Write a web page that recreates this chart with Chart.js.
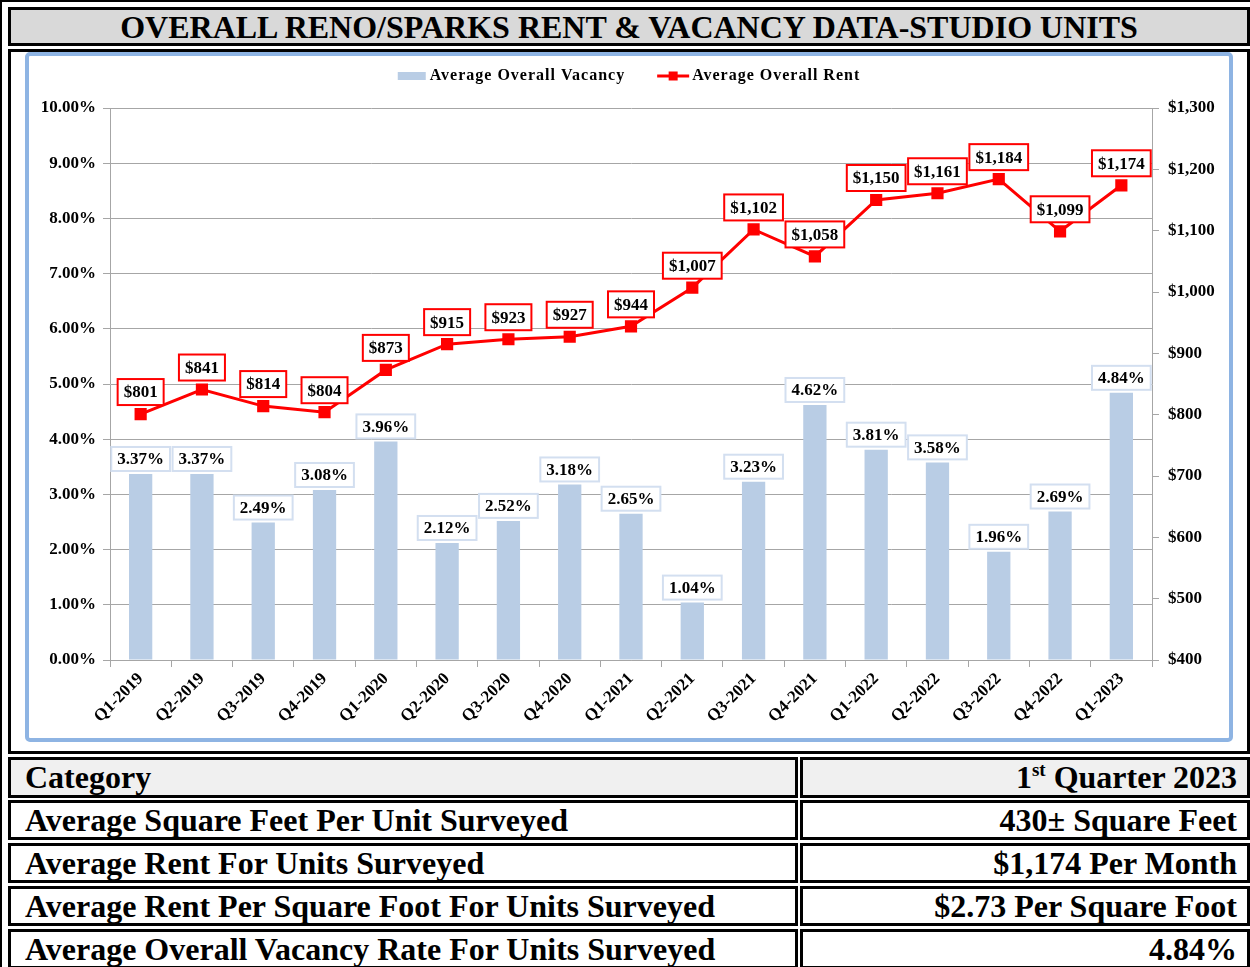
<!DOCTYPE html>
<html>
<head>
<meta charset="utf-8">
<script src="https://cdn.jsdelivr.net/npm/chart.js@4.4.1/dist/chart.umd.min.js"></script>
<style>
    html, body { margin: 0; padding: 0; background: #fff; overflow: hidden; }
    body { width: 1250px; height: 967px; position: relative; font-family: "Liberation Serif", "Times New Roman", serif; }
    .frame { position: absolute; left: 0; top: 0; width: 1270px; height: 1000px; border: 2px solid #000; box-sizing: border-box; }
    .cell { position: absolute; border: 3px solid #000; box-sizing: border-box; font-weight: bold; color: #000; white-space: nowrap; }
    .title { left: 8px; top: 7px; width: 1242px; height: 39px; background: #d9d9d9; text-align: center; font-size: 32px; line-height: 34px; }
    .chartcell { left: 8px; top: 49px; width: 1242px; height: 705px; background: #fff; }
    .panel { position: absolute; left: 25px; top: 52px; width: 1208px; height: 690px; border: 4px solid #8eb4e3; border-radius: 5px; box-sizing: border-box; }
    .row { font-size: 32px; line-height: 34px; height: 40px; }
    .row.left { left: 8px; width: 790px; padding-left: 14px; }
    .row.right { left: 800px; width: 450px; padding-right: 10px; text-align: right; }
    .row.head { background: #f0f0f0; height: 41px; }
    sup { font-size: 19px; vertical-align: 12px; line-height: 0; }
    #chartBox { position: absolute; left: 29px; top: 56px; width: 1200px; height: 682px; }
</style>
</head>
<body>
<div class="frame"></div>
<div class="cell title">OVERALL RENO/SPARKS RENT &amp; VACANCY DATA-STUDIO UNITS</div>
<div class="cell chartcell"></div>
<div class="panel"></div>
<div id="chartBox"><canvas id="rent-chart" width="1200" height="682"></canvas></div>

<div class="cell row left head" style="top:757px">Category</div>
<div class="cell row right head" style="top:757px">1<sup>st</sup> Quarter 2023</div>
<div class="cell row left" style="top:800px">Average Square Feet Per Unit Surveyed</div>
<div class="cell row right" style="top:800px">430± Square Feet</div>
<div class="cell row left" style="top:843px">Average Rent For Units Surveyed</div>
<div class="cell row right" style="top:843px">$1,174 Per Month</div>
<div class="cell row left" style="top:886px">Average Rent Per Square Foot For Units Surveyed</div>
<div class="cell row right" style="top:886px">$2.73 Per Square Foot</div>
<div class="cell row left" style="top:929px">Average Overall Vacancy Rate For Units Surveyed</div>
<div class="cell row right" style="top:929px">4.84%</div>

<script>
// Reno/Sparks studio units - vacancy (bars) and rent (line)

const quarters = [
    'Q1-2019', 'Q2-2019', 'Q3-2019', 'Q4-2019',
    'Q1-2020', 'Q2-2020', 'Q3-2020', 'Q4-2020',
    'Q1-2021', 'Q2-2021', 'Q3-2021', 'Q4-2021',
    'Q1-2022', 'Q2-2022', 'Q3-2022', 'Q4-2022',
    'Q1-2023'
];

// Average overall vacancy, percent
const vacancyRates = [3.37, 3.37, 2.49, 3.08, 3.96, 2.12, 2.52, 3.18, 2.65, 1.04, 3.23, 4.62, 3.81, 3.58, 1.96, 2.69, 4.84];

// Average overall rent, dollars per month
const averageRents = [801, 841, 814, 804, 873, 915, 923, 927, 944, 1007, 1102, 1058, 1150, 1161, 1184, 1099, 1174];

const seriesNames = ['Average Overall Vacancy', 'Average Overall Rent'];

const BAR_COLOR = '#b9cde5';
const LINE_COLOR = '#ff0000';
const GRID_COLOR = '#a6a6a6';
const FONT_FAMILY = '"Liberation Serif", "Times New Roman", serif';

const fmtPercent = v => v.toFixed(2) + '%';
const fmtDollar = v => '$' + v.toLocaleString('en-US');

/**
 * Boxed value labels above bars and points
 */
const boxLabelPlugin = {
    id: 'boxLabels',
    afterDatasetsDraw(chart) {
        const ctx = chart.ctx;
        const settings = [
            { fmt: fmtPercent, rise: 15, h: 24, stroke: '#d3dff0' },
            { fmt: fmtDollar, rise: 22, h: 26, stroke: LINE_COLOR }
        ];
        ctx.save();
        ctx.font = 'bold 17px ' + FONT_FAMILY;
        ctx.textAlign = 'center';
        ctx.textBaseline = 'middle';
        chart.data.datasets.forEach((ds, i) => {
            const meta = chart.getDatasetMeta(i);
            const s = settings[i];
            meta.data.forEach((el, j) => {
                const text = s.fmt(ds.data[j]);
                const w = ctx.measureText(text).width + 12;
                const cy = el.y - s.rise;
                ctx.fillStyle = '#fff';
                ctx.fillRect(el.x - w / 2, cy - s.h / 2, w, s.h);
                ctx.lineWidth = 2;
                ctx.strokeStyle = s.stroke;
                ctx.strokeRect(el.x - w / 2, cy - s.h / 2, w, s.h);
                ctx.fillStyle = '#000';
                ctx.fillText(text, el.x, cy + 1);
            });
        });
        ctx.restore();
    }
};

/**
 * Legend drawn across the top, centred on the canvas
 */
const topLegendPlugin = {
    id: 'topLegend',
    afterDraw(chart) {
        const ctx = chart.ctx;
        const y = 20;
        ctx.save();
        ctx.font = 'bold 16px ' + FONT_FAMILY;
        ctx.letterSpacing = '1px';
        ctx.textBaseline = 'middle';
        const t1 = chart.data.datasets[0].label;
        const t2 = chart.data.datasets[1].label;
        const w1 = ctx.measureText(t1).width;
        const w2 = ctx.measureText(t2).width;
        const total = 28 + 4 + w1 + 32 + 32 + 3 + w2;
        let x = chart.width / 2 - total / 2;

        ctx.fillStyle = BAR_COLOR;
        ctx.fillRect(x, y - 4, 28, 8);
        x += 32;
        ctx.fillStyle = '#000';
        ctx.fillText(t1, x, y);
        x += w1 + 32;

        ctx.strokeStyle = LINE_COLOR;
        ctx.lineWidth = 3;
        ctx.beginPath();
        ctx.moveTo(x, y);
        ctx.lineTo(x + 32, y);
        ctx.stroke();
        ctx.fillStyle = LINE_COLOR;
        ctx.fillRect(x + 16 - 4.5, y - 4.5, 9, 9);
        x += 35;
        ctx.fillStyle = '#000';
        ctx.fillText(t2, x, y);
        ctx.restore();
    }
};

function renderChart() {
    const ctx = document.getElementById('rent-chart').getContext('2d');
    const tickFont = { family: FONT_FAMILY, size: 17, weight: 'bold' };

    return new Chart(ctx, {
        type: 'bar',
        data: {
            labels: quarters,
            datasets: [
                {
                    type: 'bar',
                    label: seriesNames[0],
                    data: vacancyRates,
                    yAxisID: 'y',
                    backgroundColor: BAR_COLOR,
                    categoryPercentage: 1,
                    barPercentage: 0.38,
                    order: 2
                },
                {
                    type: 'line',
                    label: seriesNames[1],
                    data: averageRents,
                    yAxisID: 'y1',
                    borderColor: LINE_COLOR,
                    backgroundColor: LINE_COLOR,
                    borderWidth: 3,
                    pointStyle: 'rect',
                    pointRadius: 6.5,
                    pointBackgroundColor: LINE_COLOR,
                    pointBorderColor: LINE_COLOR,
                    tension: 0,
                    fill: false,
                    order: 1
                }
            ]
        },
        options: {
            responsive: false,
            animation: false,
            devicePixelRatio: 1,
            layout: { padding: { top: 52, left: 0, right: 0, bottom: 0 } },
            plugins: {
                legend: { display: false },
                tooltip: { enabled: false }
            },
            scales: {
                x: {
                    offset: true,
                    grid: { offset: true, drawOnChartArea: false, drawTicks: true, tickLength: 7, color: GRID_COLOR },
                    border: { color: GRID_COLOR },
                    ticks: { font: { family: FONT_FAMILY, size: 17, weight: 'bold' }, color: '#000', minRotation: 45, maxRotation: 45, padding: 2 },
                    afterFit(scale) { scale.height = 78; }
                },
                y: {
                    position: 'left',
                    min: 0,
                    max: 10,
                    ticks: { stepSize: 1, font: tickFont, color: '#000', padding: 7, callback: v => fmtPercent(v) },
                    grid: { color: GRID_COLOR, tickLength: 7 },
                    border: { color: GRID_COLOR },
                    afterFit(scale) { scale.width = 81; }
                },
                y1: {
                    position: 'right',
                    min: 400,
                    max: 1300,
                    ticks: { stepSize: 100, font: tickFont, color: '#000', padding: 9, callback: v => fmtDollar(v) },
                    grid: { drawOnChartArea: false, color: GRID_COLOR, tickLength: 7 },
                    border: { color: GRID_COLOR },
                    afterFit(scale) { scale.width = 77; }
                }
            }
        },
        plugins: [boxLabelPlugin, topLegendPlugin]
    });
}

renderChart();
</script>
</body>
</html>
